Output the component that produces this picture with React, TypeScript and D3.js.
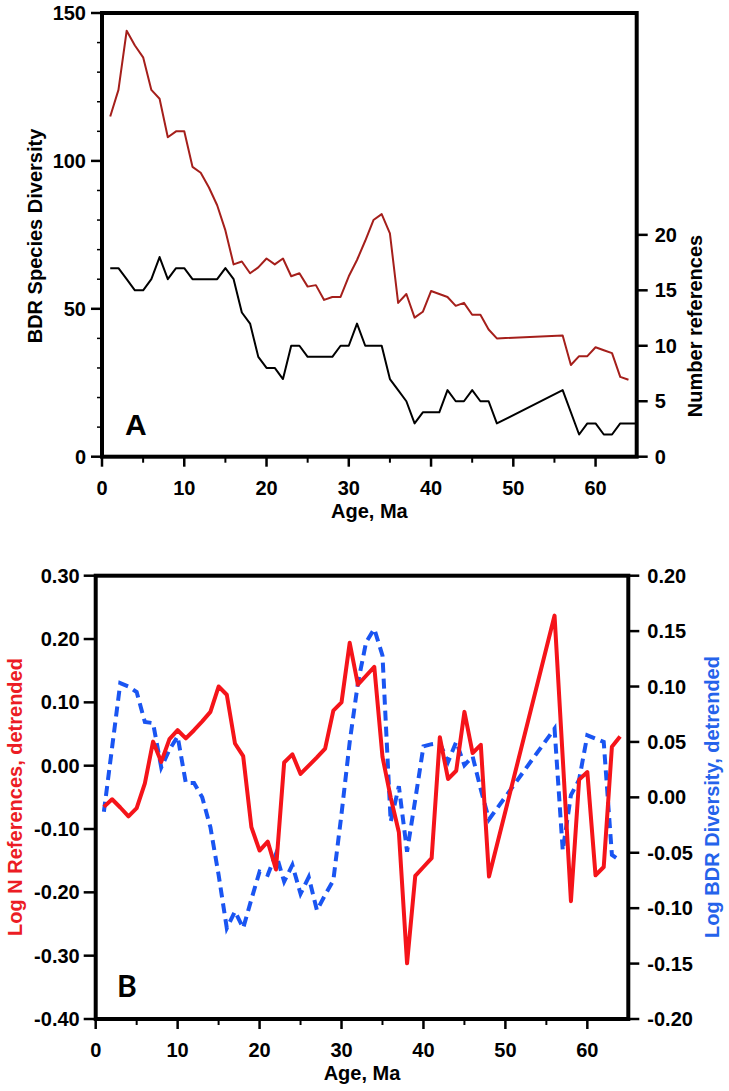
import React from "react";
import * as d3 from "d3";

// ---------- Panel A data ----------
const agesDiv = [1,2,3,4,5,6,7,8,9,10,11,12,13,14,15,16,17,18,19,20,21,22,23,24,25,26,27,28,29,30,31,32,33,34,35,36,37,38,39,40,41,42,43,44,45,46,47,48,56,57,58,59,60,61,62,63,64];
const diversity = [115,124,144,139,135,124,121,108,110,110,98,96,91,85,76.5,65,66,62,64,67,65,67,61,62,57.5,58,53,54,54,61,66.5,73,80,82,75.5,52,55,47,49,56,55,54,51,52,48,48,43,40,41,31,34,34,37,36,35,27,26];
const agesRefs = [1,2,3,4,5,6,7,8,9,10,11,12,13,14,15,16,17,18,19,20,21,22,23,24,25,26,27,28,29,30,31,32,33,34,35,36,37,38,39,40,41,42,43,44,45,46,47,48,56,58,59,60,61,62,63,64,65];
const nRefs = [17,17,16,15,15,16,18,16,17,17,16,16,16,16,17,16,13,12,9,8,8,7,10,10,9,9,9,9,10,10,12,10,10,10,7,6,5,3,4,4,4,6,5,5,6,5,5,3,6,2,3,3,2,2,3,3,3];

// ---------- Panel B data ----------
const agesB = [1,2,3,4,5,6,7,8,9,10,11,12,13,14,15,16,17,18,19,20,21,22,23,24,25,26,27,28,29,30,31,32,33,34,35,36,37,38,39,40,41,42,43,44,45,46,47,48,56,57,58,59,60,61,62,63,64];
const logRefs = [-0.065,-0.053,-0.066,-0.08,-0.067,-0.028,0.038,0.006,0.042,0.056,0.043,0.056,0.07,0.085,0.125,0.112,0.035,0.015,-0.097,-0.134,-0.12,-0.164,0.005,0.018,-0.013,0.0,0.013,0.027,0.087,0.1,0.194,0.128,0.142,0.156,0.014,-0.05,-0.105,-0.312,-0.174,-0.16,-0.146,0.045,-0.021,-0.008,0.085,0.02,0.033,-0.175,0.237,0.012,-0.214,-0.022,-0.01,-0.173,-0.16,0.03,0.046];
const logDiv = [-0.013,0.045,0.103,0.1,0.095,0.068,0.067,0.027,0.043,0.055,0.013,0.013,0.0,-0.027,-0.07,-0.118,-0.103,-0.118,-0.092,-0.067,-0.07,-0.051,-0.076,-0.061,-0.087,-0.072,-0.102,-0.088,-0.075,-0.015,0.05,0.103,0.14,0.152,0.128,-0.022,0.01,-0.049,-0.002,0.046,0.048,0.049,0.032,0.05,0.029,0.037,0.007,-0.02,0.062,-0.048,0.002,0.016,0.056,0.053,0.05,-0.052,-0.057];

// ---------- tick values ----------
const xMajor = [0,10,20,30,40,50,60];
const xMinor = [5,15,25,35,45,55];
const aLeftMajor = [0,50,100,150];
const aLeftMinor = [10,20,30,40,60,70,80,90,110,120,130,140];
const aRightTicks = [0,5,10,15,20];
const bLeftTicks = [-0.4,-0.3,-0.2,-0.1,0,0.1,0.2,0.3];
const bRightTicks = [-0.2,-0.15,-0.1,-0.05,0,0.05,0.1,0.15,0.2];

const FONT = "'Liberation Sans', Arial, Helvetica, sans-serif";
const fmt2 = (v: number) => {
  const s = Math.abs(v) < 1e-9 ? "0.00" : v.toFixed(2);
  return s;
};

export default function App() {
  // Panel A scales
  const xA = d3.scaleLinear().domain([0, 65]).range([102, 636.7]);
  const yAL = d3.scaleLinear().domain([0, 150]).range([456.7, 13]);
  const yAR = d3.scaleLinear().domain([0, 40]).range([456.7, 13]);
  // Panel B scales
  const xB = d3.scaleLinear().domain([0, 65]).range([95.7, 628.3]);
  const yBL = d3.scaleLinear().domain([-0.4, 0.3]).range([1019, 575.7]);
  const yBR = d3.scaleLinear().domain([-0.2, 0.2]).range([1019, 575.7]);

  const lineDiv = d3.line<number>().x((_, i) => xA(agesDiv[i])).y((d) => yAL(d));
  const lineRefs = d3.line<number>().x((_, i) => xA(agesRefs[i])).y((d) => yAR(d));
  const lineLogRefs = d3.line<number>().x((_, i) => xB(agesB[i])).y((d) => yBL(d));
  const lineLogDiv = d3.line<number>().x((_, i) => xB(agesB[i])).y((d) => yBR(d));

  const [aX0, aX1] = xA.range();
  const [aY0, aY1] = yAL.range();
  const [bX0, bX1] = xB.range();
  const [bY0, bY1] = yBL.range();

  const textStyle = { fontFamily: FONT, fontWeight: 700 as const, fontSize: 20 };

  return (
    <svg
      width={729}
      height={1091}
      style={{ position: "absolute", left: 0, top: 0, display: "block", background: "#fff" }}
    >
      <rect x={0} y={0} width={729} height={1091} fill="#fff" />

      {/* ================= PANEL A ================= */}
      <path d={lineDiv(diversity) || ""} fill="none" stroke="#a51f1b" strokeWidth={2} strokeLinejoin="round" />
      <path d={lineRefs(nRefs) || ""} fill="none" stroke="#000" strokeWidth={2} strokeLinejoin="round" />

      {/* frame */}
      <rect x={aX0} y={aY1} width={aX1 - aX0} height={aY0 - aY1} fill="none" stroke="#000" strokeWidth={4} />

      {/* left ticks */}
      {aLeftMajor.map((v) => (
        <g key={"alm" + v}>
          <line x1={aX0 - 11} x2={aX0} y1={yAL(v)} y2={yAL(v)} stroke="#000" strokeWidth={2.5} />
          <text x={aX0 - 16} y={yAL(v)} dy="0.35em" textAnchor="end" style={textStyle}>{v}</text>
        </g>
      ))}
      {aLeftMinor.map((v) => (
        <line key={"aln" + v} x1={aX0 - 5} x2={aX0} y1={yAL(v)} y2={yAL(v)} stroke="#000" strokeWidth={1.5} />
      ))}
      {/* right ticks */}
      {aRightTicks.map((v) => (
        <g key={"ar" + v}>
          <line x1={aX1} x2={aX1 + 11} y1={yAR(v)} y2={yAR(v)} stroke="#000" strokeWidth={2.5} />
          <text x={aX1 + 18} y={yAR(v)} dy="0.35em" textAnchor="start" style={textStyle}>{v}</text>
        </g>
      ))}
      {/* x ticks */}
      {xMajor.map((v) => (
        <g key={"axm" + v}>
          <line x1={xA(v)} x2={xA(v)} y1={aY0} y2={aY0 + 10} stroke="#000" strokeWidth={2.5} />
          <text x={xA(v)} y={495} textAnchor="middle" style={textStyle}>{v}</text>
        </g>
      ))}
      {xMinor.map((v) => (
        <line key={"axn" + v} x1={xA(v)} x2={xA(v)} y1={aY0} y2={aY0 + 6} stroke="#000" strokeWidth={2} />
      ))}

      <text x={(aX0 + aX1) / 2} y={518} textAnchor="middle" style={textStyle}>Age, Ma</text>
      <text transform="translate(42,236) rotate(-90)" textAnchor="middle" style={textStyle}>BDR Species Diversity</text>
      <text transform="translate(702,326) rotate(-90)" textAnchor="middle" style={textStyle}>Number references</text>
      <text x={125} y={435} style={{ fontFamily: FONT, fontWeight: 700, fontSize: 30 }}>A</text>

      {/* ================= PANEL B ================= */}
      <path d={lineLogDiv(logDiv) || ""} fill="none" stroke="#1a55f2" strokeWidth={4} strokeDasharray="10,6" />
      <path d={lineLogRefs(logRefs) || ""} fill="none" stroke="#f5141a" strokeWidth={4} strokeLinejoin="round" />

      <rect x={bX0} y={bY1} width={bX1 - bX0} height={bY0 - bY1} fill="none" stroke="#000" strokeWidth={4} />

      {bLeftTicks.map((v) => (
        <g key={"bl" + v}>
          <line x1={bX0 - 12} x2={bX0} y1={yBL(v)} y2={yBL(v)} stroke="#000" strokeWidth={2.5} />
          <text x={bX0 - 16} y={yBL(v)} dy="0.35em" textAnchor="end" style={textStyle}>{fmt2(v)}</text>
        </g>
      ))}
      {bRightTicks.map((v) => (
        <g key={"br" + v}>
          <line x1={bX1} x2={bX1 + 11} y1={yBR(v)} y2={yBR(v)} stroke="#000" strokeWidth={2.5} />
          <text x={bX1 + 19} y={yBR(v)} dy="0.35em" textAnchor="start" style={textStyle}>{fmt2(v)}</text>
        </g>
      ))}
      {xMajor.map((v) => (
        <g key={"bxm" + v}>
          <line x1={xB(v)} x2={xB(v)} y1={bY0} y2={bY0 + 10} stroke="#000" strokeWidth={2.5} />
          <text x={xB(v)} y={1057} textAnchor="middle" style={textStyle}>{v}</text>
        </g>
      ))}
      {xMinor.map((v) => (
        <line key={"bxn" + v} x1={xB(v)} x2={xB(v)} y1={bY0} y2={bY0 + 6} stroke="#000" strokeWidth={2} />
      ))}

      <text x={(bX0 + bX1) / 2} y={1080} textAnchor="middle" style={textStyle}>Age, Ma</text>
      <text transform="translate(22,797) rotate(-90)" textAnchor="middle" style={{ ...textStyle, fill: "#ec1c24" }}>Log N References, detrended</text>
      <text transform="translate(719,797) rotate(-90)" textAnchor="middle" style={{ ...textStyle, fill: "#2563eb" }}>Log BDR Diversity, detrended</text>
      <text x={117} y={997} style={{ fontFamily: "Lato, 'Open Sans', sans-serif", fontWeight: 700, fontSize: 30 }}>B</text>
    </svg>
  );
}
